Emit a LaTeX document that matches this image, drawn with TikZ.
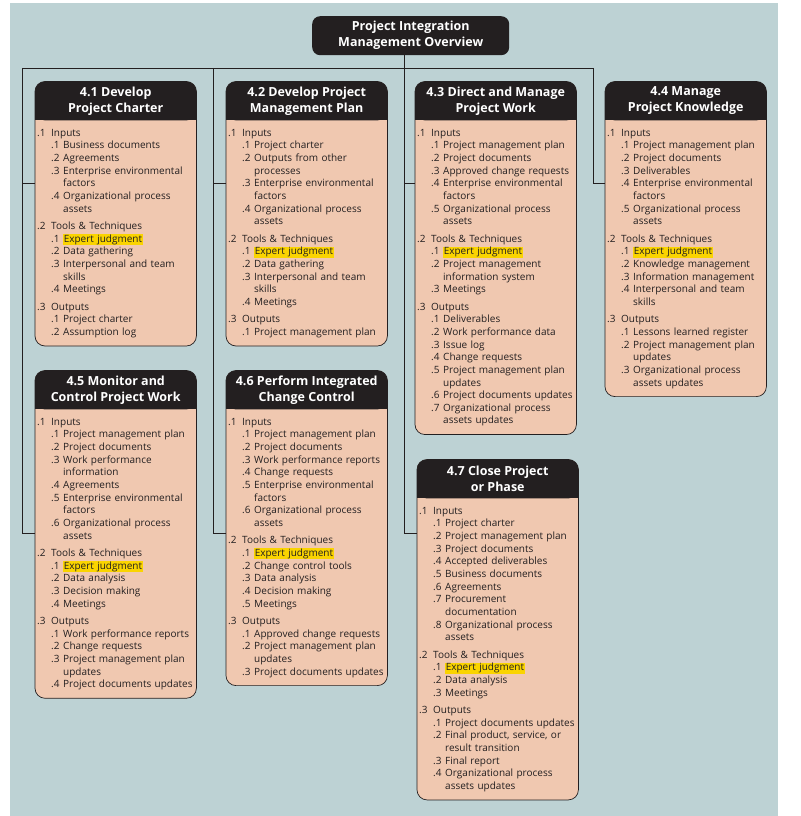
\documentclass[tikz,border=0pt]{standalone}
\usepackage{fontspec}
\setmainfont{Open Sans}
\usetikzlibrary{positioning, backgrounds}
\definecolor{panel}{RGB}{189,210,212}
\definecolor{peach}{RGB}{240,200,176}
\definecolor{ink}{RGB}{35,31,32}
\definecolor{judg}{RGB}{250,212,0}
\hyphenpenalty=10000
\exhyphenpenalty=10000
\newcommand{\grp}[2]{\par\ifnum#1>1 \vspace{4.7pt}\fi\noindent\makebox[14pt][l]{.#1}#2\par}
\newcommand{\itm}[2]{\par\noindent\hspace*{14pt}\hangindent=26pt\hangafter=1 \makebox[12pt][l]{.#1}{\def\\{\break}#2}\par}
\newcommand{\hilite}[1]{{\setlength{\fboxsep}{0.6pt}\colorbox{judg}{#1}}}
\tikzset{
x=1pt, y=-1pt, % pixel-like units, y pointing down
head/.style={text=white, font=\bfseries\fontsize{12.5}{16}\selectfont, align=center, minimum width=161pt, minimum height=38.5pt, inner sep=0pt, anchor=north west}, % black title bar of a process
body/.style={below=0pt of #1, text=ink, font=\fontsize{10}{12.65}\selectfont, align=left, text width=157pt, inner xsep=2pt, inner ysep=3pt, execute at end node=\vspace{5pt}}, % list of inputs, tools and outputs
wire/.style={draw=ink, line width=0.8pt}, % connecting lines
}
\begin{document}
\begin{tikzpicture}
\useasboundingbox (0,0) rectangle (800,816);
\node[head, fill=ink, rounded corners=8pt, minimum width=197pt, minimum height=39pt] (over) at (312,16) {Project Integration\\Management Overview};

\node[head] (h41) at (35,81.5) {4.1 Develop\\Project Charter};
\node[body=h41] (b41) {
\grp{1}{Inputs}
\itm{1}{Business documents}
\itm{2}{Agreements}
\itm{3}{Enterprise environmental\\factors}
\itm{4}{Organizational process\\assets}
\grp{2}{Tools \& Techniques}
\itm{1}{\hilite{Expert judgment}}
\itm{2}{Data gathering}
\itm{3}{Interpersonal and team\\skills}
\itm{4}{Meetings}
\grp{3}{Outputs}
\itm{1}{Project charter}
\itm{2}{Assumption log}};

\node[head] (h42) at (226,81.5) {4.2 Develop Project\\Management Plan};
\node[body=h42] (b42) {
\grp{1}{Inputs}
\itm{1}{Project charter}
\itm{2}{Outputs from other\\processes}
\itm{3}{Enterprise environmental\\factors}
\itm{4}{Organizational process\\assets}
\grp{2}{Tools \& Techniques}
\itm{1}{\hilite{Expert judgment}}
\itm{2}{Data gathering}
\itm{3}{Interpersonal and team\\skills}
\itm{4}{Meetings}
\grp{3}{Outputs}
\itm{1}{Project management plan}};

\node[head] (h43) at (415,81.5) {4.3 Direct and Manage\\Project Work};
\node[body=h43] (b43) {
\grp{1}{Inputs}
\itm{1}{Project management plan}
\itm{2}{Project documents}
\itm{3}{Approved change requests}
\itm{4}{Enterprise environmental\\factors}
\itm{5}{Organizational process\\assets}
\grp{2}{Tools \& Techniques}
\itm{1}{\hilite{Expert judgment}}
\itm{2}{Project management\\information system}
\itm{3}{Meetings}
\grp{3}{Outputs}
\itm{1}{Deliverables}
\itm{2}{Work performance data}
\itm{3}{Issue log}
\itm{4}{Change requests}
\itm{5}{Project management plan\\updates}
\itm{6}{Project documents updates}
\itm{7}{Organizational process\\assets updates}};

\node[head] (h44) at (605,81.5) {4.4 Manage\\Project Knowledge};
\node[body=h44] (b44) {
\grp{1}{Inputs}
\itm{1}{Project management plan}
\itm{2}{Project documents}
\itm{3}{Deliverables}
\itm{4}{Enterprise environmental\\factors}
\itm{5}{Organizational process\\assets}
\grp{2}{Tools \& Techniques}
\itm{1}{\hilite{Expert judgment}}
\itm{2}{Knowledge management}
\itm{3}{Information management}
\itm{4}{Interpersonal and team\\skills}
\grp{3}{Outputs}
\itm{1}{Lessons learned register}
\itm{2}{Project management plan\\updates}
\itm{3}{Organizational process\\assets updates}};

\node[head] (h45) at (35,370.5) {4.5 Monitor and\\Control Project Work};
\node[body=h45] (b45) {
\grp{1}{Inputs}
\itm{1}{Project management plan}
\itm{2}{Project documents}
\itm{3}{Work performance\\information}
\itm{4}{Agreements}
\itm{5}{Enterprise environmental\\factors}
\itm{6}{Organizational process\\assets}
\grp{2}{Tools \& Techniques}
\itm{1}{\hilite{Expert judgment}}
\itm{2}{Data analysis}
\itm{3}{Decision making}
\itm{4}{Meetings}
\grp{3}{Outputs}
\itm{1}{Work performance reports}
\itm{2}{Change requests}
\itm{3}{Project management plan\\updates}
\itm{4}{Project documents updates}};

\node[head] (h46) at (226,370.5) {4.6 Perform Integrated\\Change Control};
\node[body=h46] (b46) {
\grp{1}{Inputs}
\itm{1}{Project management plan}
\itm{2}{Project documents}
\itm{3}{Work performance reports}
\itm{4}{Change requests}
\itm{5}{Enterprise environmental\\factors}
\itm{6}{Organizational process\\assets}
\grp{2}{Tools \& Techniques}
\itm{1}{\hilite{Expert judgment}}
\itm{2}{Change control tools}
\itm{3}{Data analysis}
\itm{4}{Decision making}
\itm{5}{Meetings}
\grp{3}{Outputs}
\itm{1}{Approved change requests}
\itm{2}{Project management plan\\updates}
\itm{3}{Project documents updates}};

\node[head] (h47) at (417,459.5) {4.7 Close Project\\or Phase};
\node[body=h47] (b47) {
\grp{1}{Inputs}
\itm{1}{Project charter}
\itm{2}{Project management plan}
\itm{3}{Project documents}
\itm{4}{Accepted deliverables}
\itm{5}{Business documents}
\itm{6}{Agreements}
\itm{7}{Procurement\\documentation}
\itm{8}{Organizational process\\assets}
\grp{2}{Tools \& Techniques}
\itm{1}{\hilite{Expert judgment}}
\itm{2}{Data analysis}
\itm{3}{Meetings}
\grp{3}{Outputs}
\itm{1}{Project documents updates}
\itm{2}{Final product, service, or\\result transition}
\itm{3}{Final report}
\itm{4}{Organizational process\\assets updates}};

% tree lines
\coordinate (busL) at (22,68);
\coordinate (busR) at (593,68);
\coordinate (rail2) at (213,68);
\coordinate (rail3) at (404,68);
\coordinate (tapA) at (0,183);
\coordinate (tapB) at (0,533.5);
\draw[wire] (busL) -- (busR);
\draw[wire] (over.south -| rail3) |- (b47.west |- tapB);
\draw[wire] (busL) |- (b45.west |- tapB);
\draw[wire] (rail2) |- (b46.west |- tapB);
\draw[wire] (busR) |- (b44.west |- tapA);
\foreach \r/\n in {busL/41, rail2/42, rail3/43}
  \draw[wire] (\r |- tapA) -- (b\n.west |- tapA);

\begin{scope}[on background layer]
\fill[panel] (10,3) rectangle (778,816);
\foreach \n in {41,...,47} {
  \filldraw[fill=peach, draw=ink, line width=0.7pt, rounded corners=10pt] (h\n.north west) rectangle (b\n.south east);
  \fill[ink, rounded corners=10pt] (h\n.north west) rectangle (h\n.south east);
  \fill[ink] ([yshift=12pt]h\n.south west) rectangle (h\n.south east);
}
\end{scope}
\end{tikzpicture}
\end{document}
